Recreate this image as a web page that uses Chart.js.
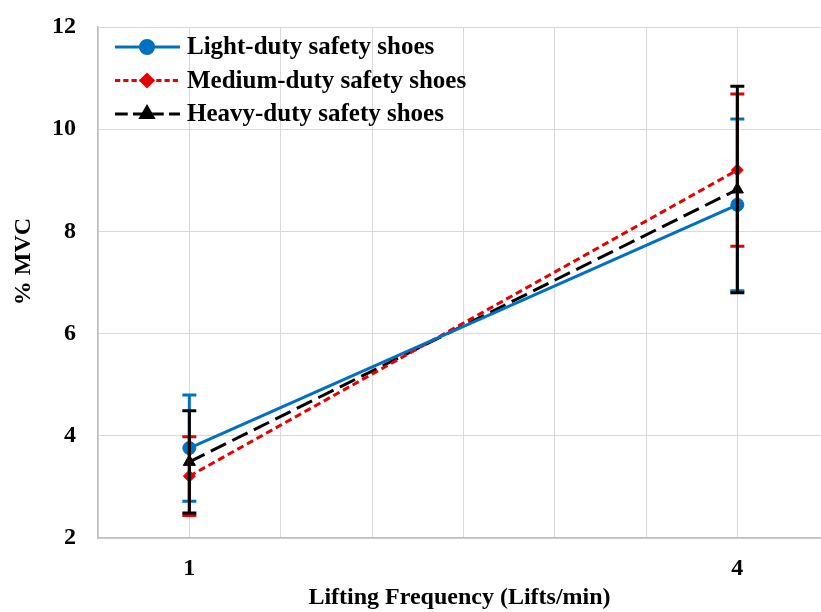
<!DOCTYPE html>
<html>
<head>
<meta charset="utf-8">
<script src="https://cdn.jsdelivr.net/npm/chart.js@4"></script>
<style>
  body { margin: 0; background: #fff; overflow: hidden; }
  #wrap { width: 821px; height: 612px; overflow: hidden; }
</style>
</head>
<body>
<div id="wrap"><canvas id="chart" width="829" height="612"></canvas></div>
<script>
const frequencies = [1, 4]
const seriesNames = ['Light-duty safety shoes', 'Medium-duty safety shoes', 'Heavy-duty safety shoes']
const lightMean  = [3.76, 8.52]
const lightErr   = [1.04, 1.68]
const mediumMean = [3.21, 9.20]
const mediumErr  = [0.77, 1.49]
const heavyMean  = [3.49, 8.82]
const heavyErr   = [1.00, 2.02]
const xLabelTicks = [1, 4]

const FONT = '"Liberation Serif", "Times New Roman", serif'
const BLUE = '#0070C0'
const RED  = '#E60000'
const BLACK = '#000000'

const pts = vals => vals.map((v, i) => ({ x: frequencies[i], y: v }))

const series = [
  { label: seriesNames[0], data: pts(lightMean),  err: lightErr,  color: BLUE,  dash: [],      style: 'circle',  r: 6.5 },
  { label: seriesNames[1], data: pts(mediumMean), err: mediumErr, color: RED,   dash: [7, 4],  style: 'rectRot', r: 6 },
  { label: seriesNames[2], data: pts(heavyMean),  err: heavyErr,  color: BLACK, dash: [17, 7], style: 'triangle', r: 7 }
]

const errorBars = {
  id: 'errorBars',
  afterDatasetsDraw(chart) {
    const { ctx, scales: { x, y } } = chart
    ctx.save()
    ctx.lineWidth = 3
    ctx.setLineDash([])
    series.forEach(s => {
      ctx.strokeStyle = s.color
      s.data.forEach((p, i) => {
        const px = x.getPixelForValue(p.x)
        const top = y.getPixelForValue(p.y + s.err[i])
        const bot = y.getPixelForValue(p.y - s.err[i])
        ctx.beginPath()
        ctx.moveTo(px, top); ctx.lineTo(px, bot)
        ctx.moveTo(px - 7, top); ctx.lineTo(px + 7, top)
        ctx.moveTo(px - 7, bot); ctx.lineTo(px + 7, bot)
        ctx.stroke()
      })
    })
    ctx.restore()
  }
}

// legend drawn inside the plot, Excel style (line sample with marker in the middle)
const insideLegend = {
  id: 'insideLegend',
  afterDraw(chart) {
    const { ctx, chartArea } = chart
    const x0 = chartArea.left + 17
    const y0 = chartArea.top + 20
    ctx.save()
    series.forEach((s, i) => {
      const yy = y0 + i * 33.5
      ctx.strokeStyle = s.color
      ctx.lineWidth = 3
      ctx.setLineDash(s.dash.length ? s.dash.map(d => d * 0.75) : [])
      ctx.beginPath()
      ctx.moveTo(x0, yy); ctx.lineTo(x0 + 65, yy)
      ctx.stroke()
      ctx.setLineDash([])
      ctx.fillStyle = s.color
      Chart.helpers.drawPoint(ctx, { pointStyle: s.style, radius: s.r, borderWidth: 1 }, x0 + 32, yy)
      ctx.fillStyle = '#000'
      ctx.font = 'bold 25px ' + FONT
      ctx.textBaseline = 'middle'
      ctx.fillText(s.label, x0 + 72, yy + 1)
    })
    ctx.restore()
  }
}

new Chart(document.getElementById('chart'), {
  type: 'line',
  data: {
    datasets: series.map(s => ({
      label: s.label,
      data: s.data,
      borderColor: s.color,
      backgroundColor: s.color,
      borderWidth: 3,
      borderDash: s.dash,
      pointStyle: s.style,
      pointRadius: s.r,
      pointBorderWidth: 1,
      tension: 0
    }))
  },
  options: {
    responsive: false,
    animation: false,
    layout: { padding: { top: 27, right: 0, left: 0, bottom: 0 } },
    plugins: {
      legend: { display: false },
      tooltip: { enabled: false }
    },
    scales: {
      x: {
        type: 'linear',
        min: 0.5,
        max: 4.458,
        afterBuildTicks: sc => { sc.ticks = [0.5, 1, 1.5, 2, 2.5, 3, 3.5, 4].map(v => ({ value: v })) },
        afterFit: sc => { sc.height = 74 },
        grid: { color: '#d9d9d9', lineWidth: 1, drawTicks: false },
        border: { color: '#bfbfbf', width: 1.5 },
        ticks: {
          padding: 16,
          color: '#000',
          font: { family: FONT, size: 24, weight: 'bold' },
          callback: v => xLabelTicks.includes(v) ? String(v) : ''
        },
        title: {
          display: true,
          text: 'Lifting Frequency (Lifts/min)',
          color: '#000',
          font: { family: FONT, size: 24, weight: 'bold' },
          padding: { top: 6, bottom: 0 }
        }
      },
      y: {
        min: 2,
        max: 12,
        afterFit: sc => { sc.width = 98; sc.paddingTop = 0; sc.paddingBottom = 0 },
        grid: { color: '#d9d9d9', lineWidth: 1, drawTicks: false },
        border: { color: '#bfbfbf', width: 1.5 },
        ticks: {
          stepSize: 2,
          padding: 22,
          color: '#000',
          font: { family: FONT, size: 24, weight: 'bold' }
        },
        title: {
          display: true,
          // leading spaces nudge the rotated title up, as in the original
          text: '       % MVC',
          color: '#000',
          font: { family: FONT, size: 24, weight: 'bold' },
          padding: { top: 9, bottom: 0 }
        }
      }
    }
  },
  plugins: [errorBars, insideLegend]
})
</script>
</body>
</html>
